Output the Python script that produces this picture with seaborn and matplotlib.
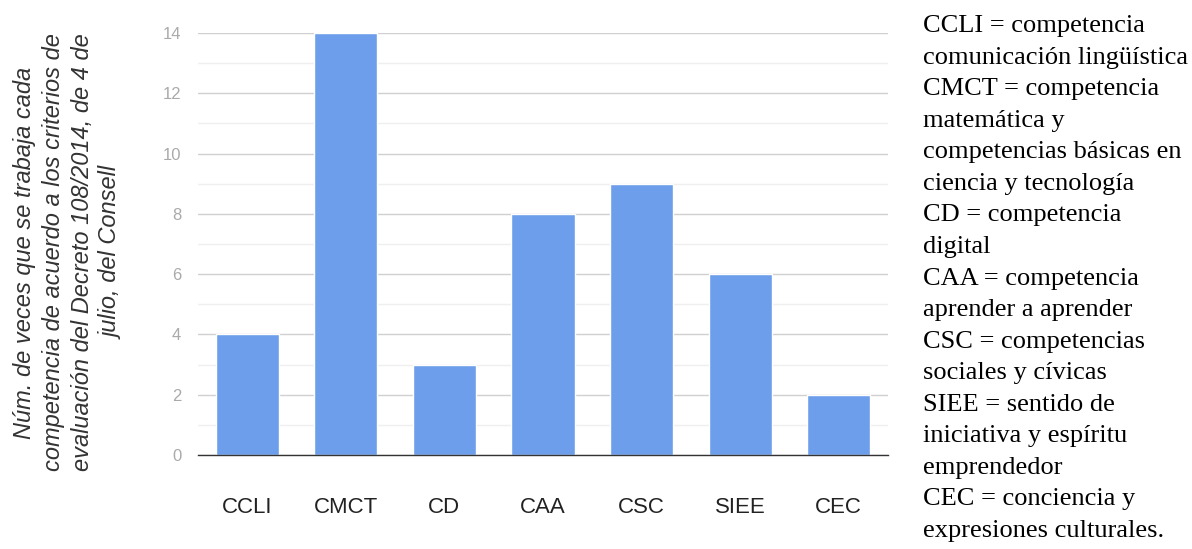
import pandas as pd
import matplotlib.pyplot as plt
import seaborn as sns

# Data
categories = ["CCLI", "CMCT", "CD", "CAA", "CSC", "SIEE", "CEC"]
counts = [4, 14, 3, 8, 9, 6, 2]
yticks = [0, 2, 4, 6, 8, 10, 12, 14]

ylabel = ("Núm. de veces que se trabaja cada\n"
          "competencia de acuerdo a los criterios de\n"
          "evaluación del Decreto 108/2014, de 4 de\n"
          "julio, del Consell")

legend_lines = [
    "CCLI = competencia",
    "comunicación lingüística",
    "CMCT = competencia",
    "matemática y",
    "competencias básicas en",
    "ciencia y tecnología",
    "CD = competencia",
    "digital",
    "CAA = competencia",
    "aprender a aprender",
    "CSC = competencias",
    "sociales y cívicas",
    "SIEE = sentido de",
    "iniciativa y espíritu",
    "emprendedor",
    "CEC = conciencia y",
    "expresiones culturales.",
]

df = pd.DataFrame({"competencia": categories, "veces": counts})

sns.set_style("white")
plt.rcParams["font.family"] = ["Liberation Sans", "DejaVu Sans"]

fig = plt.figure(figsize=(11.92, 5.49), dpi=100)
ax = fig.add_axes([0.166, 0.171, 0.579, 0.769])

sns.barplot(data=df, x="competencia", y="veces", color="#6d9eeb",
            saturation=1, width=0.64, ax=ax, zorder=3)

ax.set_ylim(0, 14)
ax.set_xlim(-0.5, len(categories) - 0.5)
ax.set_yticks(yticks)
ax.set_yticks(range(1, 14, 2), minor=True)
ax.grid(axis="y", which="major", color="#d0d0d0", linewidth=1, zorder=0)
ax.grid(axis="y", which="minor", color="#efefef", linewidth=1, zorder=0)
ax.set_axisbelow(True)
for side in ["top", "right", "left"]:
    ax.spines[side].set_visible(False)
ax.spines["bottom"].set_color("#333333")
ax.spines["bottom"].set_linewidth(1)
ax.spines["bottom"].set_zorder(4)

ax.tick_params(axis="y", which="both", length=0, labelsize=12,
               labelcolor="#aaaaaa", pad=12)
ax.tick_params(axis="x", length=0, labelsize=16, labelcolor="#222222", pad=30)
ax.set_xlabel("")
ax.set_ylabel("")

fig.text(68 / 1192, 0.540, ylabel, rotation=90, ha="center", va="center",
         multialignment="center", fontsize=17, style="italic",
         color="#333333", linespacing=1.35)

fig.text(923 / 1192, 0.972, "\n".join(legend_lines), ha="left", va="top",
         fontsize=19, family=["Liberation Serif", "DejaVu Serif"],
         color="#000000", linespacing=1.56)

fig.savefig("out.png", dpi=100)
